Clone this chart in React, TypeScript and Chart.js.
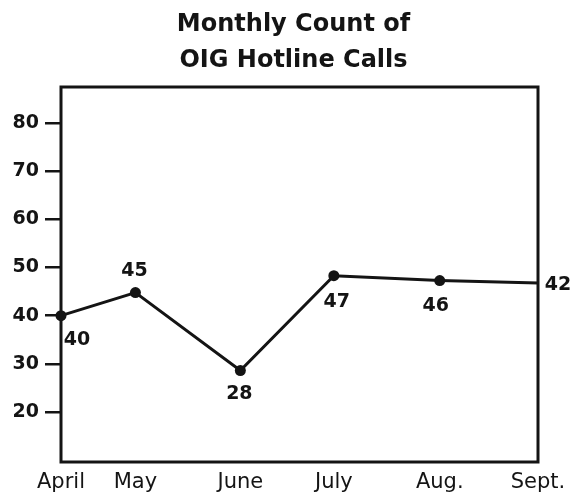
import React, { useEffect, useRef } from "react";
import { Chart, registerables } from "chart.js";

Chart.register(...registerables);

// ---- data ----
const titleLines = ["Monthly Count of", "OIG Hotline Calls"];
const months = ["April", "May", "June", "July", "Aug.", "Sept."];
// horizontal placement of each month along the (unevenly spaced) x axis
const monthPositions = [0, 0.78, 1.88, 2.86, 3.97, 5];
// values as drawn on the plot
const plottedValues = [40, 44.8, 28.6, 48.3, 47.3, 46.8];
// numbers printed next to the points
const valueLabels = ["40", "45", "28", "47", "46", "42"];
const yTicks = [20, 30, 40, 50, 60, 70, 80];

// ---- style ----
const INK = "#141414";
const FONT = '"DejaVu Sans", "Verdana", sans-serif';
const pointRadii = [5.5, 5.5, 5.5, 5.5, 5.5, 0];
// pixel offsets of the printed numbers from their points
const labelOffsets: [number, number][] = [
  [16, 24],
  [-1, -21],
  [-1, 24],
  [3, 26],
  [-4, 26],
  [20, 2],
];

const overlayPlugin = {
  id: "overlay",
  beforeDatasetsDraw(chart: any) {
    const { ctx, chartArea: a } = chart;
    ctx.save();
    ctx.strokeStyle = INK;
    ctx.lineWidth = 3;
    ctx.strokeRect(a.left, a.top, a.right - a.left, a.bottom - a.top);
    ctx.restore();
  },
  afterDraw(chart: any) {
    const { ctx, chartArea: a } = chart;
    ctx.save();
    // title
    ctx.fillStyle = INK;
    ctx.font = `bold 24px ${FONT}`;
    ctx.textAlign = "center";
    ctx.textBaseline = "alphabetic";
    const cx = (a.left + a.right) / 2 - 6;
    ctx.fillText(titleLines[0], cx, 31);
    ctx.fillText(titleLines[1], cx, 67);
    // value labels
    ctx.font = `bold 19px ${FONT}`;
    ctx.textBaseline = "middle";
    const meta = chart.getDatasetMeta(0);
    meta.data.forEach((pt: any, i: number) => {
      const [dx, dy] = labelOffsets[i];
      ctx.fillText(valueLabels[i], pt.x + dx, pt.y + dy);
    });
    ctx.restore();
  },
};

export default function App() {
  const canvasRef = useRef<HTMLCanvasElement | null>(null);

  useEffect(() => {
    if (!canvasRef.current) return;
    const chart = new Chart(canvasRef.current, {
      type: "line",
      data: {
        datasets: [
          {
            data: monthPositions.map((x, i) => ({ x, y: plottedValues[i] })),
            borderColor: INK,
            borderWidth: 3,
            backgroundColor: INK,
            pointBackgroundColor: INK,
            pointBorderColor: INK,
            pointBorderWidth: 0,
            pointRadius: pointRadii,
            tension: 0,
            fill: false,
            clip: false,
          },
        ],
      },
      options: {
        responsive: false,
        animation: false,
        events: [],
        layout: { padding: { top: 87, right: 33, bottom: 0, left: 0 } },
        plugins: {
          legend: { display: false },
          title: { display: false },
          tooltip: { enabled: false },
        },
        scales: {
          x: {
            type: "linear",
            min: 0,
            max: 5,
            border: { display: false },
            grid: { display: false, drawTicks: false, tickLength: 0 },
            afterBuildTicks: (s: any) => {
              s.ticks = monthPositions.map((v) => ({ value: v }));
            },
            afterFit: (s: any) => {
              s.height = 31;
              s.paddingLeft = 0;
              s.paddingRight = 0;
            },
            ticks: {
              autoSkip: false,
              maxRotation: 0,
              padding: 8,
              color: INK,
              font: { family: FONT, size: 21, weight: "normal" },
              callback: (_v: any, i: number) => months[i],
            },
          },
          y: {
            type: "linear",
            min: 9.6,
            max: 87.5,
            border: { display: false },
            grid: {
              display: true,
              drawOnChartArea: false,
              drawTicks: true,
              tickLength: 16,
              lineWidth: 2.5,
              color: INK,
            },
            afterBuildTicks: (s: any) => {
              s.ticks = yTicks.map((v) => ({ value: v }));
            },
            afterFit: (s: any) => {
              s.width = 61;
              s.paddingTop = 0;
              s.paddingBottom = 0;
            },
            ticks: {
              padding: 6,
              color: INK,
              font: { family: FONT, size: 19, weight: "bold" },
              callback: (v: any) => String(v),
            },
          },
        },
      },
      plugins: [overlayPlugin],
    } as any);
    return () => chart.destroy();
  }, []);

  return (
    <div
      style={{
        position: "absolute",
        left: 0,
        top: 0,
        width: 571,
        height: 493,
        background: "#ffffff",
      }}
    >
      <canvas ref={canvasRef} width={571} height={493} />
    </div>
  );
}
